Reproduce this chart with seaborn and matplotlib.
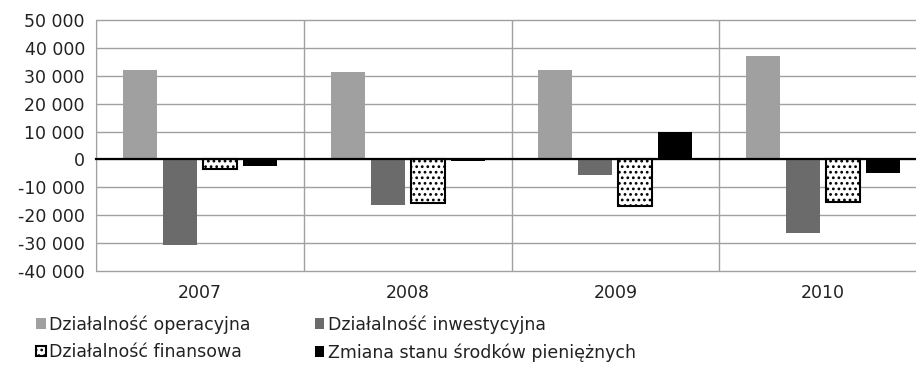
import matplotlib.pyplot as plt
import pandas as pd
import seaborn as sns
from matplotlib.ticker import FuncFormatter, MultipleLocator

# Dane
years = ['2007', '2008', '2009', '2010']
categories = ['Działalność operacyjna', 'Działalność inwestycyjna',
              'Działalność finansowa', 'Zmiana stanu środków pieniężnych']
operacyjna = [32000, 31300, 31900, 37000]
inwestycyjna = [-30800, -16400, -5400, -26400]
finansowa = [-3500, -15500, -16700, -15200]
zmiana = [-2200, -600, 9800, -4700]

df = pd.DataFrame({
    'rok': years * 4,
    'kategoria': [c for c in categories for _ in years],
    'wartosc': operacyjna + inwestycyjna + finansowa + zmiana,
})

sns.set_style('white')
plt.rcParams['font.family'] = ['DejaVu Sans']
plt.rcParams['hatch.linewidth'] = 1.2
plt.rcParams['text.color'] = '#222222'

fig = plt.figure(figsize=(9.16, 3.70), dpi=100)
ax = fig.add_axes([96 / 916, 1 - 271 / 370, 831 / 916, 251 / 370])

colors = ['#a0a0a0', '#6b6b6b', 'white', 'black']
sns.barplot(data=df, x='rok', y='wartosc', hue='kategoria', palette=colors,
            width=0.77, gap=0.15, ax=ax, legend=False, zorder=2)

for i, cont in enumerate(ax.containers):
    for p in cont.patches:
        if i == 2:
            p.set_hatch('...')
            p.set_edgecolor('black')
            p.set_linewidth(1.5)
        else:
            p.set_linewidth(0)

ax.set_xlim(-0.5, 3.5)
ax.set_ylim(-40000, 50000)
ax.yaxis.set_major_locator(MultipleLocator(10000))
ax.yaxis.set_major_formatter(FuncFormatter(lambda v, _: f'{int(v):,}'.replace(',', ' ')))
ax.set_xlabel('')
ax.set_ylabel('')

ax.set_xticks([-0.5, 0.5, 1.5, 2.5, 3.5], minor=True)
ax.yaxis.grid(True, color='#a0a0a0', lw=1, zorder=0)
ax.xaxis.grid(True, which='minor', color='#a0a0a0', lw=1, zorder=0)
ax.xaxis.grid(False, which='major')
ax.set_axisbelow(True)
for gl in ax.get_ygridlines():
    gl.set_clip_on(False)

for s in ['top', 'right']:
    ax.spines[s].set_visible(False)
ax.spines['left'].set_color('#a0a0a0')
ax.spines['bottom'].set_position(('data', 0))
ax.spines['bottom'].set_color('black')
ax.spines['bottom'].set_linewidth(1.6)
ax.spines['bottom'].set_zorder(3)

ax.tick_params(axis='x', which='major', length=0, labelbottom=False)
ax.tick_params(axis='x', which='minor', direction='out', length=4, width=1.5, color='black')
ax.tick_params(axis='y', length=5, color='#a0a0a0', labelsize=12.5, pad=3, labelcolor='#222222')

sec = ax.secondary_xaxis('bottom')
sec.set_xticks(range(len(years)), labels=years)
sec.tick_params(length=0, pad=9, labelsize=12.5, labelcolor='#222222')
sec.spines['bottom'].set_visible(False)

handles = [ax.containers[i].patches[0] for i in range(4)]
order = [0, 2, 1, 3]
fig.legend([handles[i] for i in order], [categories[i] for i in order],
           loc='upper left', bbox_to_anchor=(36 / 916, 1 - 315 / 370),
           ncol=2, frameon=False, fontsize=12.5, borderpad=0, borderaxespad=0,
           handlelength=0.55, handleheight=0.55, handletextpad=0.2,
           columnspacing=3.7, labelspacing=0.55)

fig.savefig('out.png', dpi=100)
